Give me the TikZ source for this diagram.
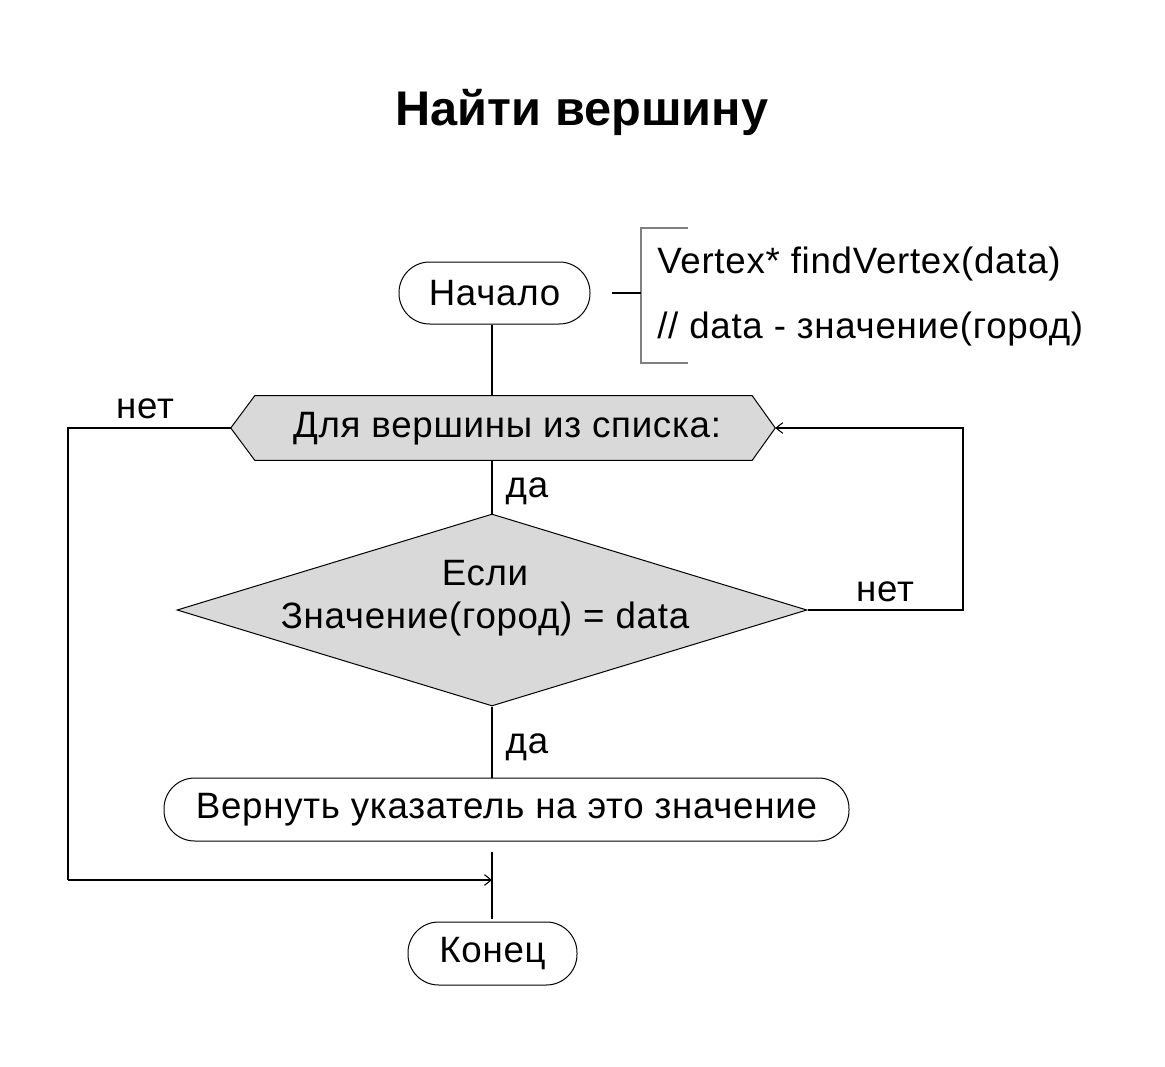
\documentclass[tikz,border=0pt]{standalone}
\usepackage{fontspec}
\setmainfont{Liberation Sans}[LetterSpace=2]
\newfontfamily\titlefont{Liberation Sans}
\usetikzlibrary{shapes.geometric,arrows.meta,calc}
\begin{document}
\begin{tikzpicture}[x=0.75pt,y=-0.75pt,
  every node/.style={font=\fontsize{27.5pt}{32pt}\selectfont, inner sep=0pt},
  term/.style={draw, line width=0.75pt, rounded corners=23pt, minimum height=62*0.75pt},
  decision/.style={diamond, draw, line width=0.75pt, fill=boxgray, minimum width=630*0.75pt, minimum height=192*0.75pt, align=center},
  conn/.style={line width=0.8pt},
  arr/.style={line width=0.9pt, -{Straight Barb[length=5pt,width=8pt,line width=0.8pt]}},
  brack/.style={draw=bracketgray, line width=1pt}
]
\definecolor{boxgray}{HTML}{D9D9D9}
\definecolor{bracketgray}{HTML}{808080}
\useasboundingbox (0,0) rectangle (1165,1067);

\node[font=\fontsize{36.5pt}{44pt}\titlefont\bfseries] (title) at (582,112) {Найти вершину};

\node[term, minimum width=191*0.75pt] (start) at (494.5,293) {Начало};

% hexagon (loop)
\node[minimum width=544*0.75pt, minimum height=64*0.75pt] (hex) at (503,428) {};
\draw[line width=0.75pt, fill=boxgray] (hex.west) -- ($(hex.north west)+(24,0)$) -- ($(hex.north east)+(-23,0)$) -- (hex.east) -- ($(hex.south east)+(-23,0)$) -- ($(hex.south west)+(24,0)$) -- cycle;
\node at (507,429) (hextext) {Для вершины из списка:};

\node[decision] (dec) at (492,610) {};
\node (dectext) at (485,598) [align=center, font=\fontsize{27.5pt}{32pt}\selectfont] {Если\\Значение(город) = data};

\node[term, minimum width=685*0.75pt, minimum height=63*0.75pt] (ret) at (506.5,809.5) {Вернуть указатель на это значение};

\node[term, minimum width=169*0.75pt, minimum height=63*0.75pt] (fin) at (492.5,953.5) {Конец};

% comment
\coordinate (cmtop) at (641,228);
\coordinate (cmbot) at (641,363);
\coordinate (cmmid) at (641,293);
\draw[brack] (688,228) -- (cmtop) -- (cmbot) -- (688,363);
\draw[conn] ($(start.east)+(21,0)$) -- (cmmid);
\node[anchor=west] (c1) at (657,264) {Vertex* findVertex(data)};
\node[anchor=west] (c2) at (657,329) {// data - значение(город)};

% connectors
\draw[conn] (dec.north |- start.south) -- (dec.north |- hex.north);
\draw[conn] (dec.north |- hex.south) -- (dec.north);
\node (da1) at (527,491) {да};
\draw[conn] (dec.south) -- (dec.south |- ret.north);
\node (da2) at (527,747) {да};

\coordinate (lt) at (68,428);
\coordinate (lb) at (68,880);
\coordinate (mj) at (dec.south |- lb);
\draw[conn] (hex.west) -- (lt) -- (lb);
\draw[arr] (lb) -- (mj);
\node (net1) at (145,409) {нет};

\coordinate (rb) at (dec.east -| 963,0);
\coordinate (rt) at (963,428);
\draw[arr] (dec.east) -- (rb) -- (rt) -- (hex.east);
\node (net2) at (885,592) {нет};

\draw[conn] ($(dec.south |- ret.south)+(0,10)$) -- ($(dec.south |- fin.north)+(0,-3)$);
\end{tikzpicture}
\end{document}
